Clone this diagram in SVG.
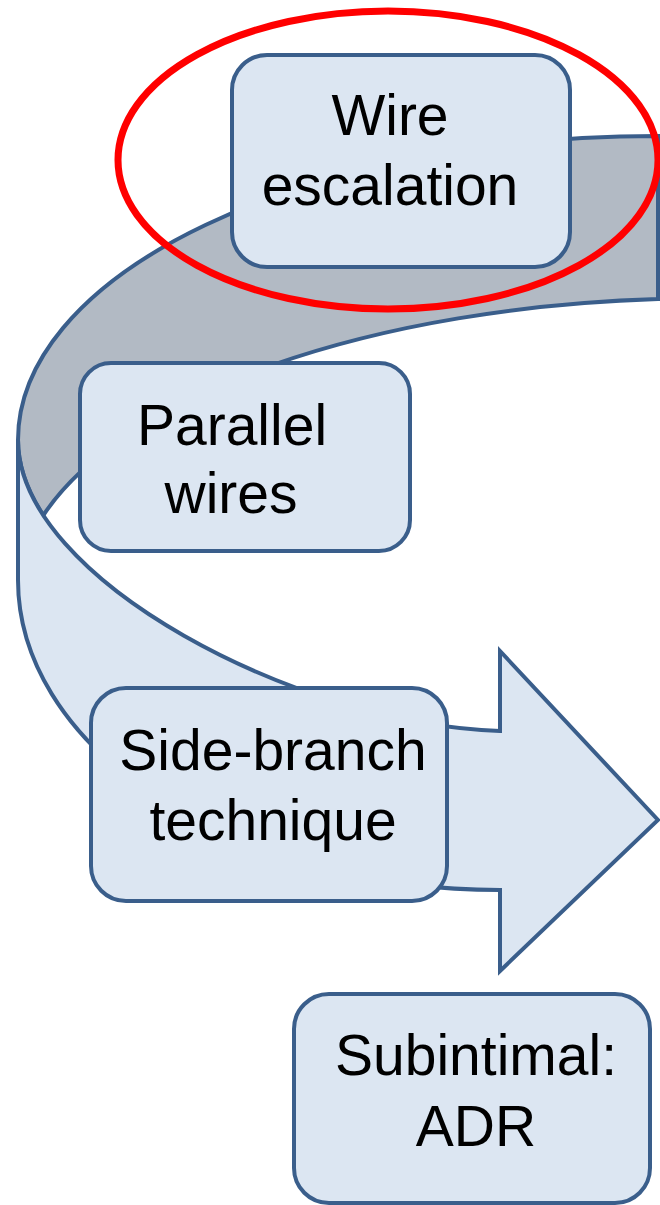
<svg xmlns="http://www.w3.org/2000/svg" width="660" height="1205" viewBox="0 0 660 1205">
<style>
.band{stroke:#3a5e8b;stroke-width:4;stroke-linejoin:miter}
.back{fill:#b2bac4}
.front{fill:#dce6f2}
.box{fill:#dce6f2;stroke:#3a5e8b;stroke-width:4}
.t{font-family:"Liberation Sans",Arial,sans-serif;font-size:57px;fill:#000;text-anchor:middle}
.hl{fill:none;stroke:#ff0000;stroke-width:7}
</style>
<rect width="660" height="1205" fill="#ffffff"/>
<g id="connectors">
<path class="band back" d="M 658,136 A 640 304 0 0 0 18,440 C 18,465.2 27.1,490.6 43.3,515.3 A 690 300 0 0 1 658,299 Z"/>
<path class="band front" d="M 18,440 L 18,580 A 482 310 0 0 0 500,890 L 500,971 L 658,820 L 500,651 L 500,731 C 300,725 18,580 18,440 Z"/>
</g>
<g id="node-wire-escalation">
<rect class="box" x="232" y="55" width="338" height="212" rx="35"/>
<text class="t" x="390" y="135">Wire</text>
<text class="t" x="390" y="205">escalation</text>
</g>
<g id="node-parallel-wires">
<rect class="box" x="80" y="363" width="330" height="188" rx="31"/>
<text class="t" x="232" y="445">Parallel</text>
<text class="t" x="231" y="513">wires</text>
</g>
<g id="node-side-branch">
<rect class="box" x="91" y="688" width="356" height="213" rx="35"/>
<text class="t" x="273" y="770">Side-branch</text>
<text class="t" x="273" y="840">technique</text>
</g>
<g id="node-subintimal">
<rect class="box" x="294" y="994" width="356" height="209" rx="35"/>
<text class="t" x="476" y="1075">Subintimal:</text>
<text class="t" x="476" y="1146">ADR</text>
</g>
<g id="highlight">
<ellipse class="hl" cx="388" cy="160" rx="270" ry="149"/>
</g>
</svg>
